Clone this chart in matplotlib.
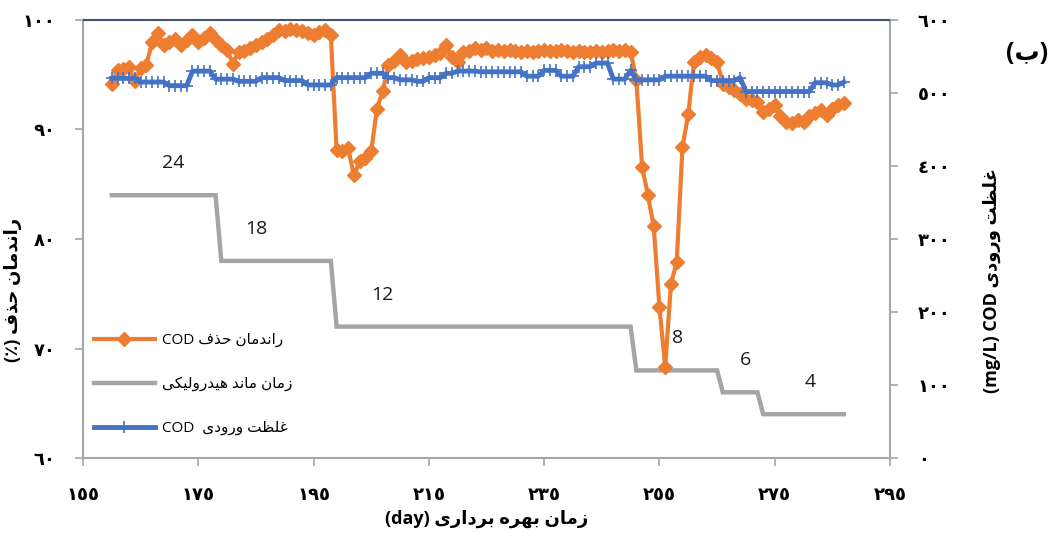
import matplotlib
matplotlib.use("Agg")
import matplotlib.pyplot as plt
from matplotlib.ticker import FuncFormatter

plt.rcParams["font.family"] = ["Open Sans", "DejaVu Sans"]

# Operating days
days = list(range(160, 288))

# COD removal efficiency (%), one value per day
removal = [
    94.2, 95.4, 95.5, 95.7, 94.4, 95.6, 95.9, 98.0, 98.8, 97.7,
    98.0, 98.3, 97.7, 98.2, 98.6, 98.0, 98.4, 98.8, 98.2, 97.7,
    97.3, 96.0, 97.1, 97.2, 97.4, 97.7, 98.0, 98.3, 98.6, 99.1,
    99.0, 99.2, 99.1, 99.0, 98.8, 98.6, 98.9, 99.1, 98.6, 88.1,
    88.0, 88.3, 85.8, 87.1, 87.4, 88.0, 91.9, 93.5, 95.9, 96.3,
    96.8, 96.2, 96.3, 96.4, 96.5, 96.6, 96.8, 97.0, 97.7, 96.6,
    96.2, 97.1, 97.2, 97.4, 97.3, 97.4, 97.2, 97.3, 97.2, 97.3,
    97.2, 97.1, 97.2, 97.1, 97.2, 97.3, 97.2, 97.2, 97.3, 97.2,
    97.1, 97.2, 97.1, 97.1, 97.2, 97.1, 97.2, 97.3, 97.2, 97.3,
    97.1, 94.5, 86.6, 84.0, 81.2, 73.8, 68.3, 75.9, 77.9, 88.4,
    91.4, 96.2, 96.6, 96.8, 96.5, 96.2, 94.2, 93.9, 93.6, 93.2,
    92.8, 92.7, 92.5, 91.6, 91.9, 92.2, 91.2, 90.7, 90.6, 90.9,
    90.7, 91.2, 91.5, 91.8, 91.3, 91.9, 92.2, 92.4,
]

# Influent COD (mg/L), one value per day
influent = [
    520, 520, 520, 520, 520, 515, 515, 515, 515, 515,
    510, 510, 510, 510, 530, 530, 530, 530, 519, 519,
    519, 519, 516, 516, 516, 516, 521, 521, 521, 521,
    517, 517, 517, 517, 511, 511, 511, 511, 511, 521,
    521, 521, 521, 521, 521, 527, 527, 527, 521, 521,
    518, 518, 518, 516, 516, 521, 521, 521, 527, 527,
    530, 530, 530, 530, 529, 529, 529, 529, 529, 529,
    529, 529, 523, 523, 523, 531, 531, 531, 523, 523,
    523, 536, 536, 536, 541, 541, 541, 519, 519, 519,
    531, 518, 518, 518, 518, 518, 523, 523, 523, 523,
    523, 523, 523, 523, 517, 517, 517, 517, 517, 521,
    502, 502, 502, 502, 502, 502, 502, 502, 502, 502,
    502, 502, 514, 514, 514, 511, 511, 515,
]

# Hydraulic retention time (h) periods
hrt_values = [24, 18, 12, 8, 6, 4]
hrt_start = [160, 179, 199, 251, 266, 273]
hrt_end = [178, 198, 250, 265, 272, 287]
hrt_label_days = [170.6, 185.0, 206.9, 258.1, 270.0, 281.1]

# Persian shaping (presentation forms: isolated, final, initial, medial)
FORMS = {
    "ا": (0xFE8D, 0xFE8E, 0xFE8D, 0xFE8E),
    "ب": (0xFE8F, 0xFE90, 0xFE91, 0xFE92),
    "ت": (0xFE95, 0xFE96, 0xFE97, 0xFE98),
    "ح": (0xFEA1, 0xFEA2, 0xFEA3, 0xFEA4),
    "د": (0xFEA9, 0xFEAA, 0xFEA9, 0xFEAA),
    "ذ": (0xFEAB, 0xFEAC, 0xFEAB, 0xFEAC),
    "ر": (0xFEAD, 0xFEAE, 0xFEAD, 0xFEAE),
    "ز": (0xFEAF, 0xFEB0, 0xFEAF, 0xFEB0),
    "ظ": (0xFEC5, 0xFEC6, 0xFEC7, 0xFEC8),
    "غ": (0xFECD, 0xFECE, 0xFECF, 0xFED0),
    "ف": (0xFED1, 0xFED2, 0xFED3, 0xFED4),
    "ک": (0xFED9, 0xFEDA, 0xFEDB, 0xFEDC),
    "ل": (0xFEDD, 0xFEDE, 0xFEDF, 0xFEE0),
    "م": (0xFEE1, 0xFEE2, 0xFEE3, 0xFEE4),
    "ن": (0xFEE5, 0xFEE6, 0xFEE7, 0xFEE8),
    "ه": (0xFEE9, 0xFEEA, 0xFEEB, 0xFEEC),
    "و": (0xFEED, 0xFEEE, 0xFEED, 0xFEEE),
    "ی": (0xFEEF, 0xFEF0, 0xFEF3, 0xFEF4),
}
RIGHT_ONLY = set("ادذرزو")


def shape_word(word):
    out = []
    for i, ch in enumerate(word):
        prev = word[i - 1] if i > 0 else None
        nxt = word[i + 1] if i + 1 < len(word) else None
        join_prev = prev in FORMS and prev not in RIGHT_ONLY
        join_next = nxt in FORMS and ch not in RIGHT_ONLY
        iso, fin, ini, med = FORMS[ch]
        if join_prev and join_next:
            out.append(chr(med))
        elif join_prev:
            out.append(chr(fin))
        elif join_next:
            out.append(chr(ini))
        else:
            out.append(chr(iso))
    return "".join(reversed(out))


def fa(text):
    # visual (left-to-right) order of a Persian phrase
    return " ".join(shape_word(w) for w in reversed(text.split(" ")))


AR_DIGITS = str.maketrans("0123456789", "٠١٢٣٤٥٦٧٨٩")


def ar_num(v, pos=None):
    return str(int(round(v))).translate(AR_DIGITS)


ORANGE = "#ed7d31"
BLUE = "#4472c4"
GRAY = "#a5a5a5"
SPINE = "#a6a6a6"

fig = plt.figure(figsize=(10.57, 5.33), dpi=100)
ax_h = fig.add_axes([0.0785, 0.1407, 0.7635, 0.8218])
ax = ax_h.twinx()
ax2 = ax_h.twinx()
ax_h.set_zorder(0)
ax.set_zorder(1)
ax2.set_zorder(2)
ax.patch.set_visible(False)
ax2.patch.set_visible(False)

# HRT step line, one point per day
hrt_days, hrt_line = [], []
for v, s, e in zip(hrt_values, hrt_start, hrt_end):
    for d in range(s, e + 1):
        hrt_days.append(d)
        hrt_line.append(v)
(l_hrt,) = ax_h.plot(hrt_days, hrt_line, color=GRAY, lw=3.2, solid_joinstyle="miter")
ax_h.set_ylim(0, 40)
ax_h.set_yticks([])
for v, d in zip(hrt_values, hrt_label_days):
    ax_h.annotate(str(v), xy=(d, v), xytext=(0, 23), textcoords="offset points",
                  ha="center", va="center", fontsize=14, color="#1a1a1a")

(l_rem,) = ax.plot(days, removal, color=ORANGE, lw=3, marker="D", ms=7,
                   mec=ORANGE, mfc=ORANGE)
ax.yaxis.tick_left()
ax.yaxis.set_label_position("left")
ax.set_ylim(60, 100)
ax.set_yticks([60, 70, 80, 90, 100])

(l_inf,) = ax2.plot(days, influent, color=BLUE, lw=3.5, marker="+", ms=9, mew=1.2)
ax2.set_ylim(0, 600)
ax2.set_yticks(range(0, 601, 100))

ax_h.set_xlim(155, 295)
ax_h.set_xticks(range(155, 296, 20))

# only one set of visible spines
for a in (ax, ax2):
    for s in a.spines.values():
        s.set_visible(False)
for side in ("left", "right", "bottom"):
    ax_h.spines[side].set_color(SPINE)
    ax_h.spines[side].set_linewidth(1.5)
ax_h.spines["top"].set_color("#44546a")
ax_h.spines["top"].set_linewidth(1.5)

for a in (ax_h, ax, ax2):
    a.tick_params(colors=SPINE, length=6, width=1.2, labelcolor="black",
                  labelsize=13)

fmt = FuncFormatter(ar_num)
ax_h.xaxis.set_major_formatter(fmt)
ax.yaxis.set_major_formatter(fmt)
ax2.yaxis.set_major_formatter(fmt)
ax_h.tick_params(axis="x", pad=14)
ax.tick_params(axis="y", pad=14)
ax2.tick_params(axis="y", pad=14)
for lab in ax_h.get_xticklabels() + ax.get_yticklabels() + ax2.get_yticklabels():
    lab.set_fontweight("bold")

ax_h.set_xlabel("(day) " + fa("زمان بهره برداری"), fontsize=13, fontweight="bold",
                labelpad=4)
ax.set_ylabel("(٪) " + fa("راندمان حذف"), fontsize=13, fontweight="bold")
ax.yaxis.set_label_coords(-0.076, 0.384)
ax2.set_ylabel("(mg/L) COD " + fa("غلظت ورودی"), fontsize=13, fontweight="bold",
               rotation=90)
ax2.yaxis.set_label_coords(1.115, 0.406)

fig.text(0.972, 0.9, "(" + fa("ب") + ")", fontsize=18, fontweight="bold",
         ha="center", va="center")

leg = ax2.legend([l_rem, l_hrt, l_inf],
                 ["COD " + fa("راندمان حذف"), fa("زمان ماند هیدرولیکی"),
                  "COD  " + fa("غلظت ورودی")],
                 loc="upper left", bbox_to_anchor=(0.0, 0.31), frameon=False,
                 fontsize=11, handlelength=4.0, handletextpad=0.5,
                 labelspacing=1.9, borderaxespad=0.3)

fig.savefig("out.png", dpi=100)
